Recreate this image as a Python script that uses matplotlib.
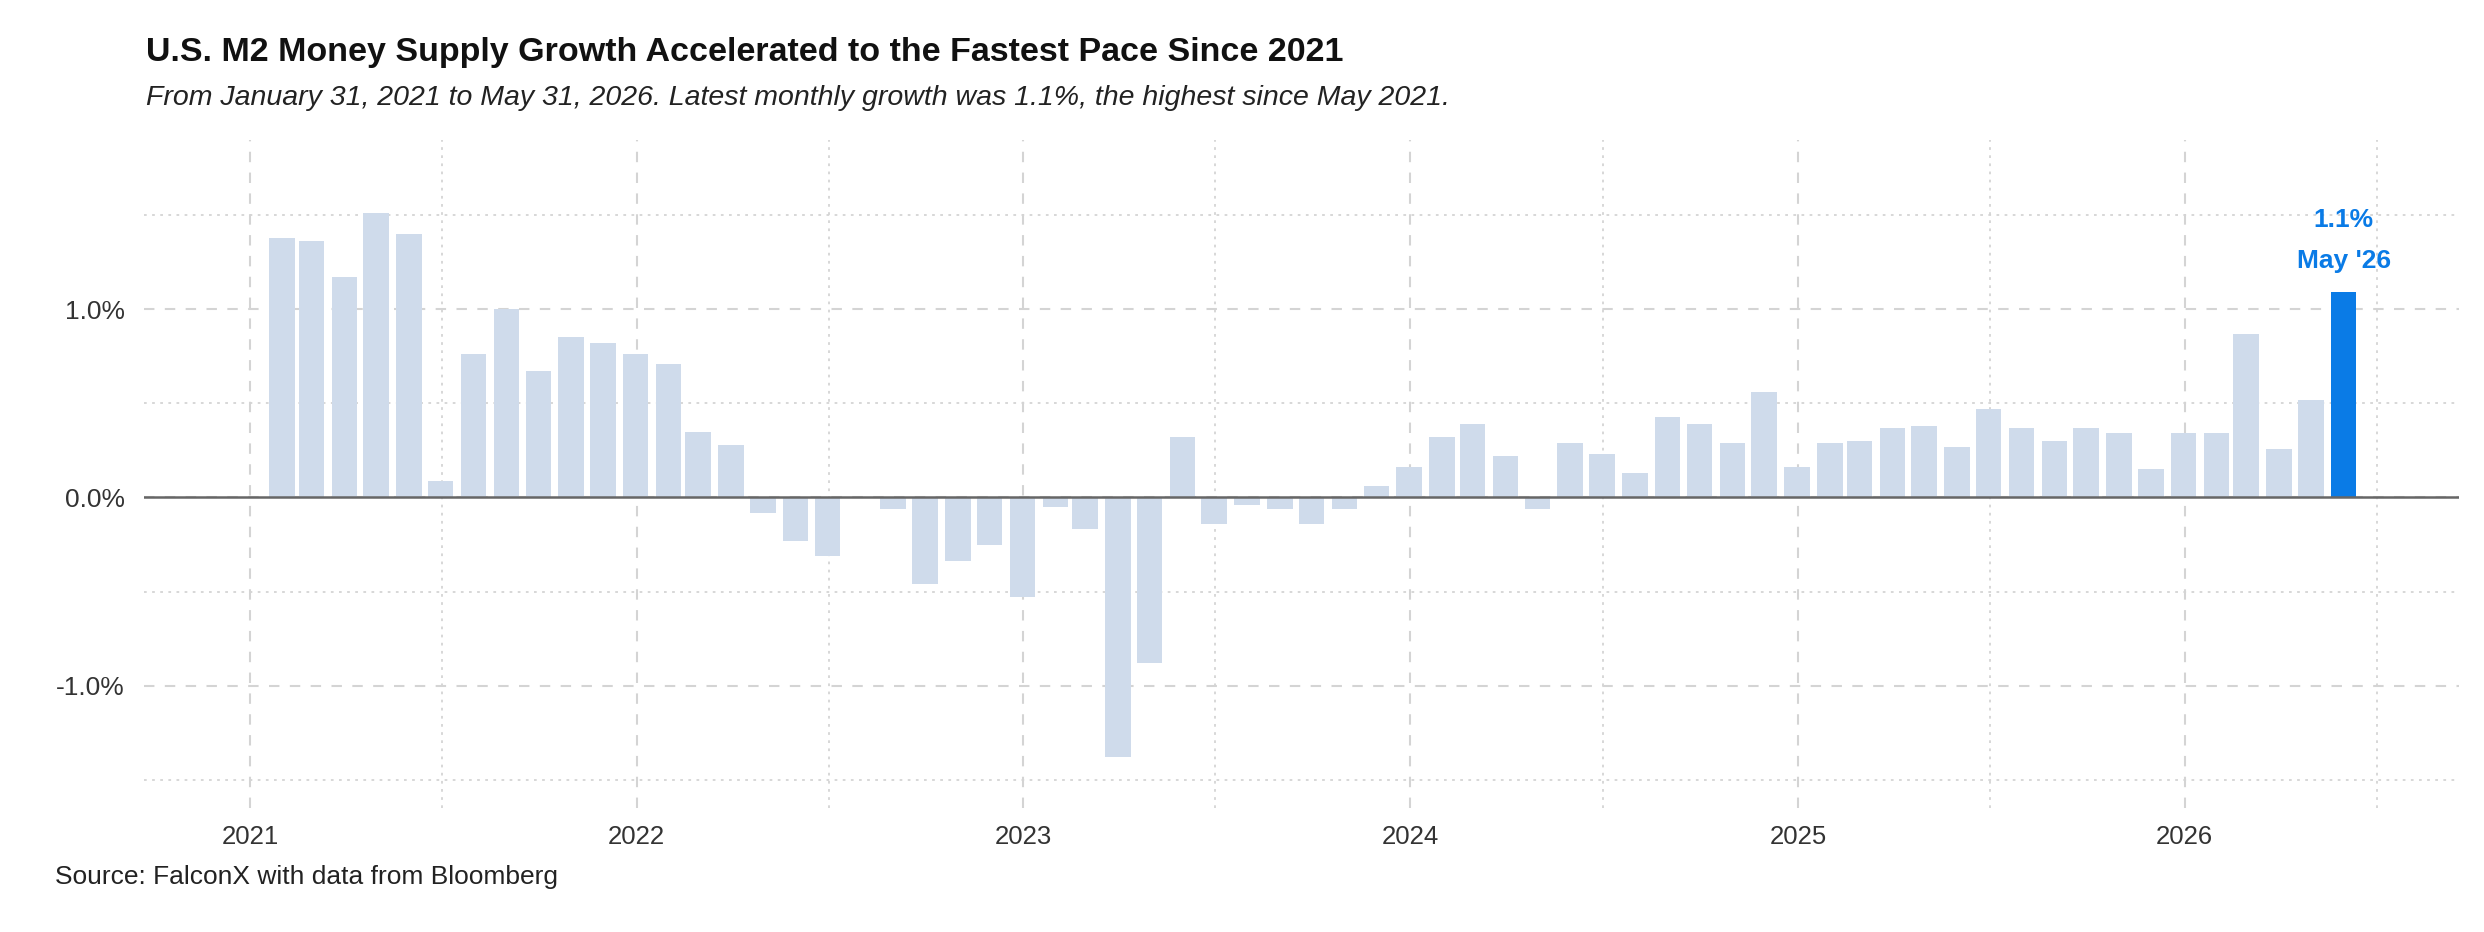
import matplotlib.pyplot as plt
import matplotlib.dates as mdates
import matplotlib.ticker as mticker
import pandas as pd

plt.rcParams['font.family'] = ['Liberation Sans', 'DejaVu Sans']

# month-end dates, Jan 2021 .. May 2026
months = pd.date_range("2021-02-01", "2026-06-01", freq="MS") - pd.Timedelta(days=1)

# monthly M2 growth, %
growth = [
    1.38, 1.36, 1.17, 1.51, 1.40, 0.09, 0.76, 1.00, 0.67, 0.85, 0.82, 0.76,    # 2021
    0.71, 0.35, 0.28, -0.08, -0.23, -0.31, 0.00, -0.06, -0.46, -0.34, -0.25, -0.53,  # 2022
    -0.05, -0.17, -1.38, -0.88, 0.32, -0.14, -0.04, -0.06, -0.14, -0.06, 0.06, 0.16,  # 2023
    0.32, 0.39, 0.22, -0.06, 0.29, 0.23, 0.13, 0.43, 0.39, 0.29, 0.56, 0.16,    # 2024
    0.29, 0.30, 0.37, 0.38, 0.27, 0.47, 0.37, 0.30, 0.37, 0.34, 0.15, 0.34,     # 2025
    0.34, 0.87, 0.26, 0.52, 1.09,                                               # 2026
]

title = "U.S. M2 Money Supply Growth Accelerated to the Fastest Pace Since 2021"
subtitle = ("From January 31, 2021 to May 31, 2026. Latest monthly growth was 1.1%, "
            "the highest since May 2021.")
source = "Source: FalconX with data from Bloomberg"
callout = "1.1%\nMay '26"

light = "#cfdbeb"
blue = "#0a7be6"
grid_col = "#d4d4d4"

fig = plt.figure(figsize=(24.84, 9.32), dpi=100)
ax = fig.add_axes([0.058, 0.133, 0.932, 0.717])

colors = [light] * (len(growth) - 1) + [blue]
ax.bar(months, growth, width=24, color=colors, zorder=2)
ax.axhline(0, color="#666666", lw=1.8, zorder=3)

ax.set_xlim(pd.Timestamp("2020-09-23"), pd.Timestamp("2026-09-17"))
ax.set_ylim(-1.65, 1.90)

ax.set_yticks([-1, 0, 1])
ax.set_yticks([-1.5, -0.5, 0.5, 1.5], minor=True)
ax.yaxis.set_major_formatter(mticker.FuncFormatter(lambda v, p: f"{v:.1f}%"))
ax.xaxis.set_major_locator(mdates.YearLocator())
ax.xaxis.set_minor_locator(mdates.MonthLocator(bymonth=7))
ax.xaxis.set_major_formatter(mdates.DateFormatter("%Y"))

ax.grid(which="major", color=grid_col, lw=1.5, linestyle=(0, (5, 5)), zorder=0)
ax.grid(which="minor", color=grid_col, lw=1.3, linestyle=(0, (1.5, 3)), zorder=0)

for s in ax.spines.values():
    s.set_visible(False)
ax.tick_params(which="both", length=0)
ax.tick_params(axis="y", labelsize=19, labelcolor="#333333", pad=14)
ax.tick_params(axis="x", labelsize=18.5, labelcolor="#333333", pad=12)

ax.annotate(callout, xy=(months[-1], growth[-1]), xytext=(0, 14),
            textcoords="offset points", ha="center", va="bottom",
            color=blue, fontsize=19, fontweight="bold", linespacing=1.9)

fig.text(0.0587, 0.944, title, fontsize=24.5, fontweight="bold", va="center", color="#111111")
fig.text(0.0587, 0.895, subtitle, fontsize=20.5, style="italic", va="center", color="#222222")
fig.text(0.0223, 0.0595, source, fontsize=19, va="center", color="#222222")

fig.savefig("out.png", dpi=100, facecolor="white")
